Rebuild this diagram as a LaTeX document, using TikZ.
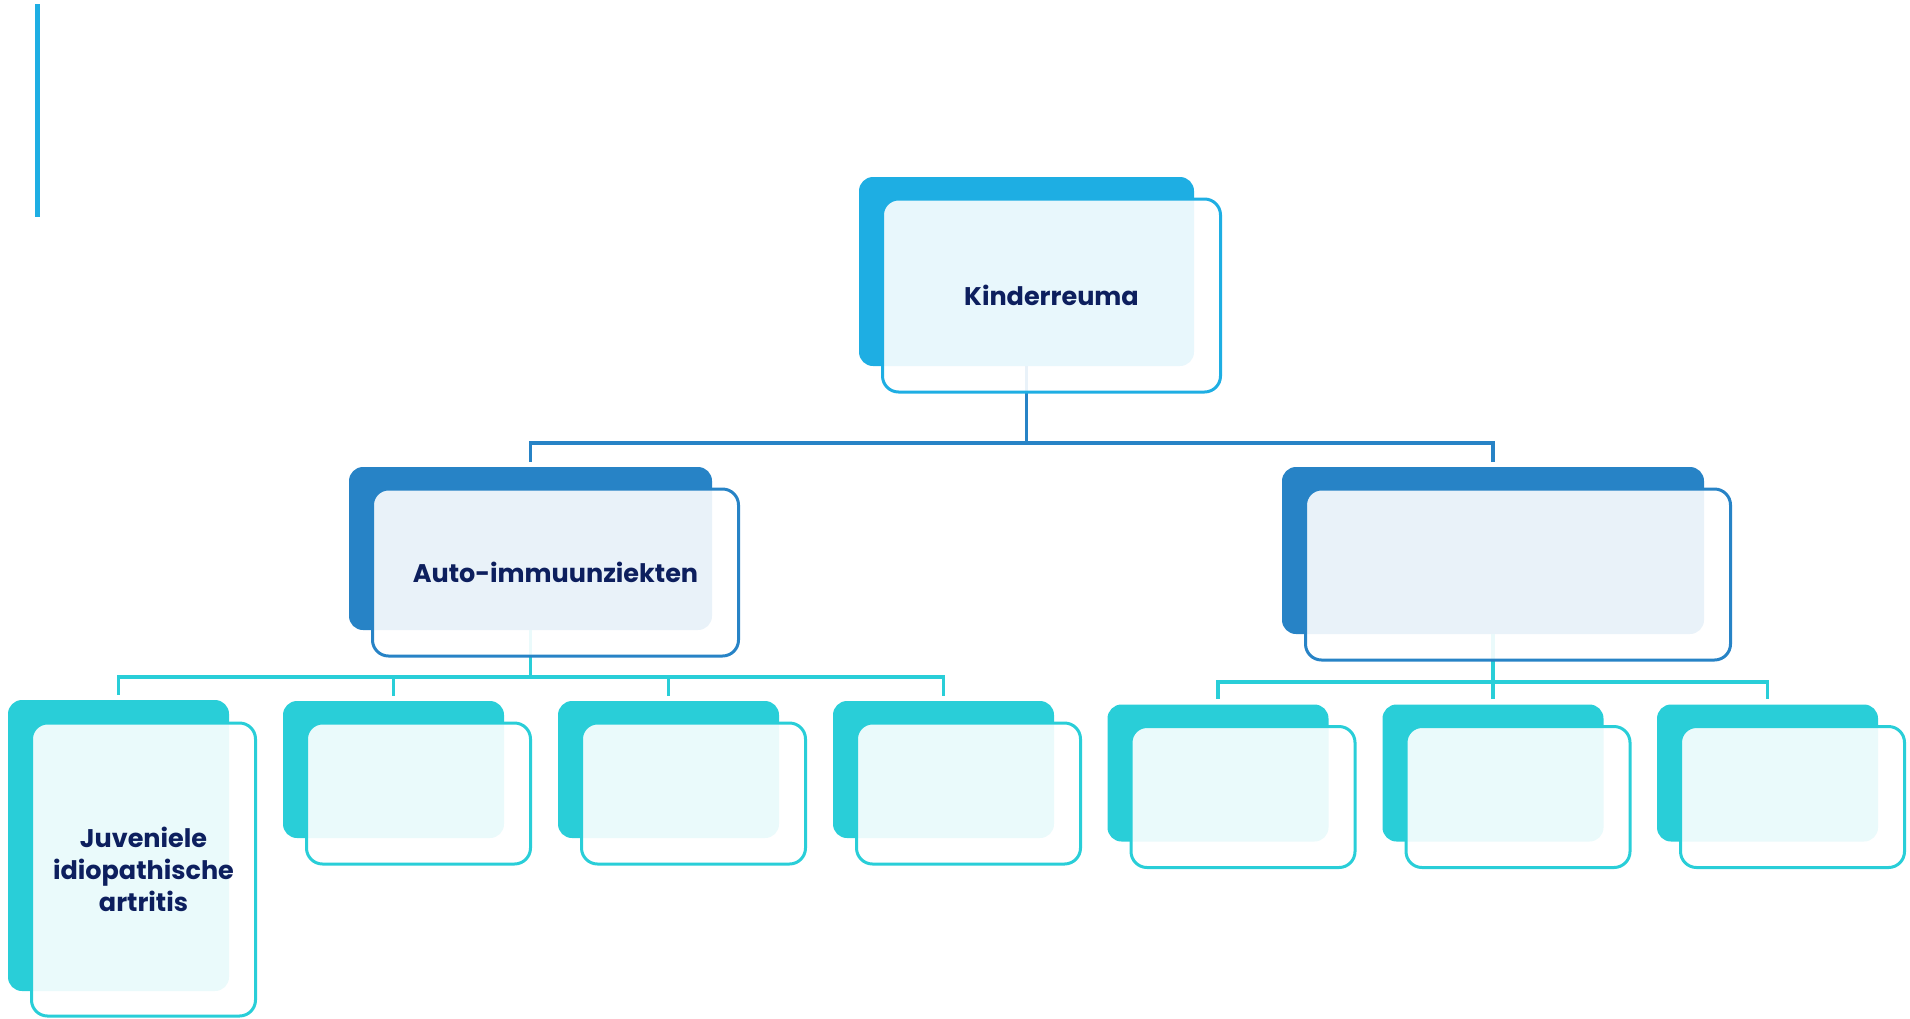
\documentclass[tikz,border=0pt]{standalone}
\usepackage{fontspec}
\setmainfont{Poppins}
\usetikzlibrary{calc,positioning}

\definecolor{skyblue}{HTML}{1EAEE3}
\definecolor{midblue}{HTML}{2783C6}
\definecolor{leafteal}{HTML}{29CED8}
\definecolor{navy}{HTML}{0D1F5E}

\tikzset{
  backbox/.style={fill=#1, rounded corners=14pt, inner sep=0pt},
  frontbox/.style={draw=#1, line width=3pt, fill=white, fill opacity=0.9, text opacity=1,
    rounded corners=16pt, inner sep=0pt, text=navy, align=center,
    font=\fontsize{25.5}{32}\selectfont\bfseries},
  leafback/.style={backbox=leafteal, minimum width=221pt, minimum height=137pt},
  leaffront/.style={frontbox=leafteal, minimum width=224pt, minimum height=141pt},
  conn/.style={draw=#1, line width=3.5pt, shorten >=5pt},
}

\begin{document}
\begin{tikzpicture}[x=1pt,y=-1pt]
\useasboundingbox (0,0) rectangle (1910,1018);

% side bar
\draw[skyblue, line width=5pt] (37.5,4) -- (37.5,217);

% back boxes
\node[backbox=skyblue, minimum width=335pt, minimum height=189pt] (kb) at (1026.5,271.5) {};
\node[backbox=midblue, minimum width=363pt, minimum height=163pt] (ab) at (530.5,548.5) {};
\node[backbox=midblue, minimum width=422pt, minimum height=167pt] (rb) at (1493,550.5) {};
\node[backbox=leafteal, minimum width=221pt, minimum height=291pt] (jb) at (118.5,845.5) {};
\node[leafback] (l2b) at (393.5,769.5) {};
\node[leafback] (l3b) at (668.5,769.5) {};
\node[leafback] (l4b) at (943.5,769.5) {};
\node[leafback] (r1b) at (1218,773) {};
\node[leafback] (r2b) at (1493,773) {};
\node[leafback] (r3b) at (1767.5,773) {};

% connectors
\draw[conn=midblue] (kb.south) -- ++(0,77) -| (ab.north);
\draw[conn=midblue] (kb.south) -- ++(0,77) -| (rb.north);
\draw[conn=leafteal] (ab.south) -- ++(0,47) -| (jb.north);
\draw[conn=leafteal] (ab.south) -- ++(0,47) -| (l2b.north);
\draw[conn=leafteal] (ab.south) -- ++(0,47) -| (l3b.north);
\draw[conn=leafteal] (ab.south) -- ++(0,47) -| (l4b.north);
\draw[conn=leafteal] (rb.south) -- ++(0,48) -| (r1b.north);
\draw[conn=leafteal] (rb.south) -- ++(0,48) -| (r2b.north);
\draw[conn=leafteal] (rb.south) -- ++(0,48) -| (r3b.north);

% front boxes
\node[frontbox=skyblue, minimum width=338pt, minimum height=193pt] (kf) at ($(kb)+(25,24)$) {Kinderreuma};
\node[frontbox=midblue, minimum width=366pt, minimum height=167pt] (af) at ($(ab)+(25,24)$) {Auto-immuunziekten};
\node[frontbox=midblue, minimum width=425pt, minimum height=171pt] (rf) at ($(rb)+(25,24)$) {};
\node[frontbox=leafteal, minimum width=224pt, minimum height=293pt] (jf) at ($(jb)+(25,24)$) {Juveniele\\idiopathische\\artritis};
\node[leaffront] (l2f) at ($(l2b)+(25,24)$) {};
\node[leaffront] (l3f) at ($(l3b)+(25,24)$) {};
\node[leaffront] (l4f) at ($(l4b)+(25,24)$) {};
\node[leaffront] (r1f) at ($(r1b)+(25,24)$) {};
\node[leaffront] (r2f) at ($(r2b)+(25,24)$) {};
\node[leaffront] (r3f) at ($(r3b)+(25,24)$) {};
\end{tikzpicture}
\end{document}
